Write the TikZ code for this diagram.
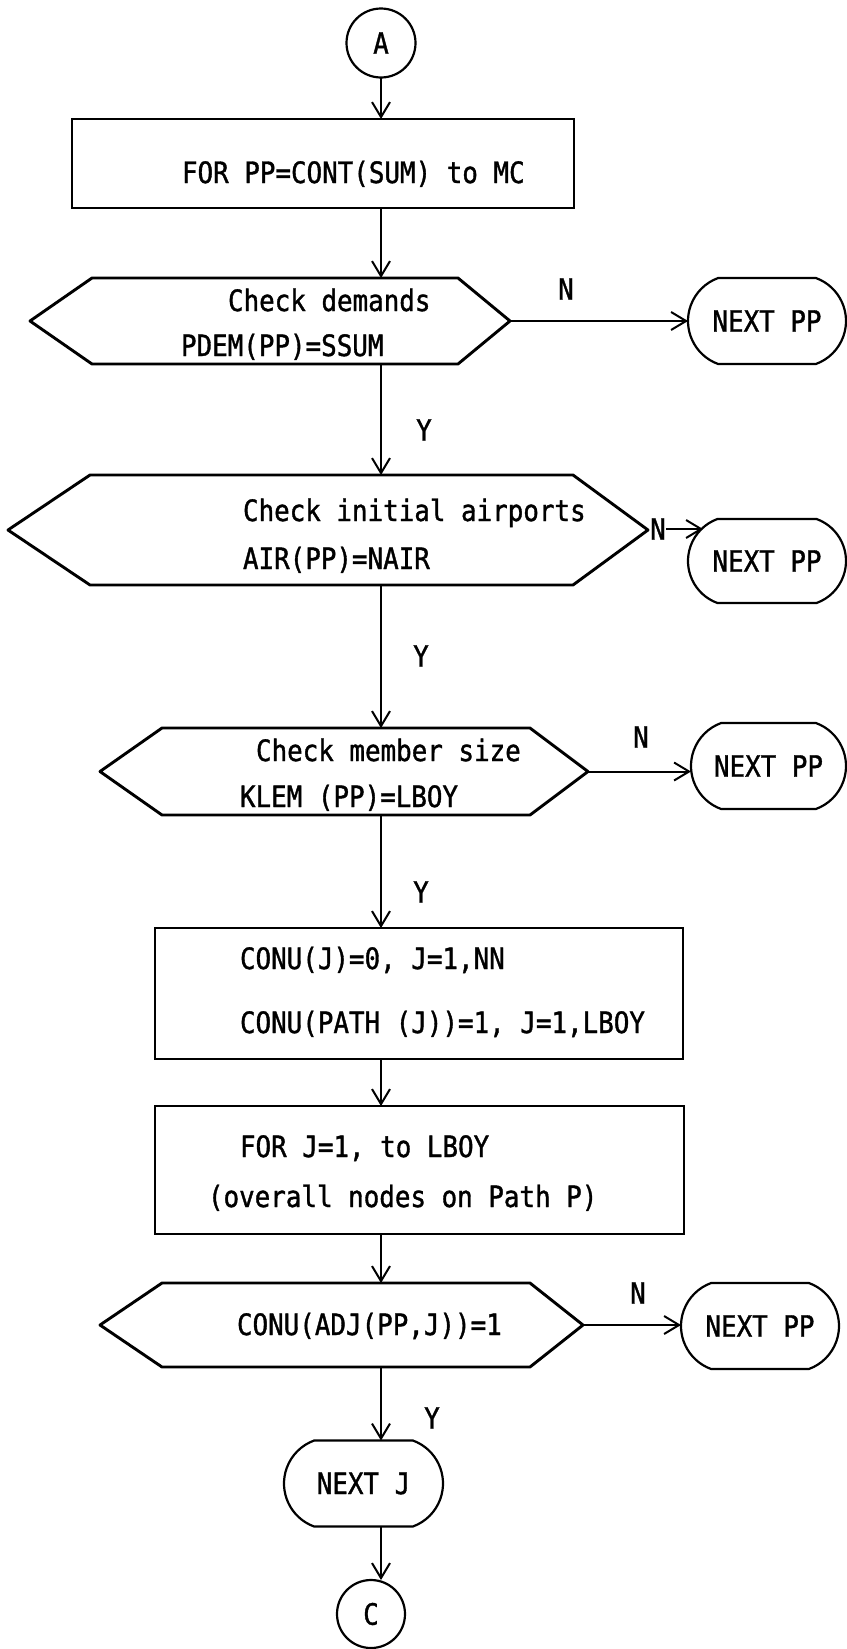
\documentclass[tikz,border=0pt]{standalone}
\usepackage{fontspec}
\newfontfamily\tw[FakeStretch=0.88,FakeBold=1.2]{DejaVu Sans Mono}
\usetikzlibrary{arrows.meta,shapes.misc}
\newcommand\hexbox[3]{\draw[boxline] (#1.west) -- ([xshift=#2pt]#1.north west) -- ([xshift=-#3pt]#1.north east) -- (#1.east) -- ([xshift=-#3pt]#1.south east) -- ([xshift=#2pt]#1.south west) -- cycle;}
\tikzset{
  every node/.style={font=\tw\fontsize{29.4}{34}\selectfont, inner sep=0pt, outer sep=0pt},
  boxline/.style={line width=2.9pt, line join=round},
  hexnode/.style={rectangle, draw=none},
  procbox/.style={rectangle, draw, line width=2.8pt},
  term/.style={rounded rectangle, rounded rectangle arc length=140, draw, line width=2.2pt},
  conn/.style={circle, draw, line width=2.2pt, minimum size=69pt},
  arr/.style={line width=2pt, -{Straight Barb[length=15pt,width=18pt]}},
  txt/.style={anchor=base west},
  lbl/.style={anchor=center},
}
\begin{document}
\begin{tikzpicture}[x=1pt,y=-1pt]
\fill[white] (0,0) rectangle (846,1649);
\useasboundingbox (0,0) rectangle (846,1649);

% start connector
\node[conn] (A) at (381,43) {A};

% FOR loop box
\node[procbox, minimum width=502pt, minimum height=89pt] (r1) at (323,163.5) {};
\node[txt] (t1) at (182,183) {FOR PP=CONT(SUM) to MC};

% decision 1
\node[hexnode, minimum width=480pt, minimum height=86pt] (h1) at (270,321) {};
\hexbox{h1}{62}{52}
\node[txt] (t2) at (228,311) {Check demands};
\node[txt] (t3) at (181,356) {PDEM(PP)=SSUM};
\node[term, minimum width=158pt, minimum height=86pt] (np1) at (767,321) {NEXT PP};
\node[lbl] (n1) at (566,289) {N};

% decision 2
\node[hexnode, minimum width=640pt, minimum height=110pt] (h2) at (328,530) {};
\hexbox{h2}{82}{75}
\node[txt] (t4) at (243,521) {Check initial airports};
\node[txt] (t5) at (243,569) {AIR(PP)=NAIR};
\node[term, minimum width=158pt, minimum height=84pt] (np2) at (767,561) {NEXT PP};
\node[lbl] (n2) at (658,529) {N};

% decision 3
\node[hexnode, minimum width=488pt, minimum height=87pt] (h3) at (344,771.5) {};
\hexbox{h3}{62}{58}
\node[txt] (t6) at (256,761) {Check member size};
\node[txt] (t7) at (240,807) {KLEM (PP)=LBOY};
\node[term, minimum width=155pt, minimum height=86pt] (np3) at (768.5,766) {NEXT PP};
\node[lbl] (n3) at (641,737) {N};

% process boxes
\node[procbox, minimum width=528pt, minimum height=131pt] (r2) at (419,993.5) {};
\node[txt] (t8) at (240,969) {CONU(J)=0, J=1,NN};
\node[txt] (t9) at (240,1033) {CONU(PATH (J))=1, J=1,LBOY};
\node[procbox, minimum width=529pt, minimum height=128pt] (r3) at (419.5,1170) {};
\node[txt] (t10) at (240,1157) {FOR J=1, to LBOY};
\node[txt] (t11) at (208,1207) {(overall nodes on Path P)};

% decision 4
\node[hexnode, minimum width=483pt, minimum height=84pt] (h4) at (341.5,1325) {};
\hexbox{h4}{62}{53}
\node[txt] (t12) at (237,1335) {CONU(ADJ(PP,J))=1};
\node[term, minimum width=158pt, minimum height=86pt] (np4) at (760,1326) {NEXT PP};
\node[lbl] (n4) at (638,1293) {N};

% next J and end connector
\node[term, minimum width=159pt, minimum height=86pt] (nj) at (363.5,1483.5) {NEXT J};
\node[conn, minimum size=68pt] (C) at (371,1614) {C};

% Y labels
\node[lbl] (y1) at (424,430) {Y};
\node[lbl] (y2) at (421,656) {Y};
\node[lbl] (y3) at (421,892) {Y};
\node[lbl] (y4) at (432,1418) {Y};

% main flow
\draw[arr] (A.south) -- (A.south |- r1.north);
\draw[arr] (r1.south -| A) -- (h1.north -| A);
\draw[arr] (h1.south -| A) -- (h2.north -| A);
\draw[arr] (h2.south -| A) -- (h3.north -| A);
\draw[arr] (h3.south -| A) -- (r2.north -| A);
\draw[arr] (r2.south -| A) -- (r3.north -| A);
\draw[arr] (r3.south -| A) -- (h4.north -| A);
\draw[arr] (h4.south -| A) -- (nj.north -| A);
\draw[arr] (nj.south -| A) -- (C.north -| A);

% N branches
\draw[arr] (h1.east) -- (h1.east -| np1.west);
\draw[arr] (n2.east) -- ([xshift=15pt]np2.west |- n2.east);
\draw[arr] (h3.east) -- (h3.east -| np3.west);
\draw[arr] (h4.east) -- (h4.east -| np4.west);
\end{tikzpicture}
\end{document}
